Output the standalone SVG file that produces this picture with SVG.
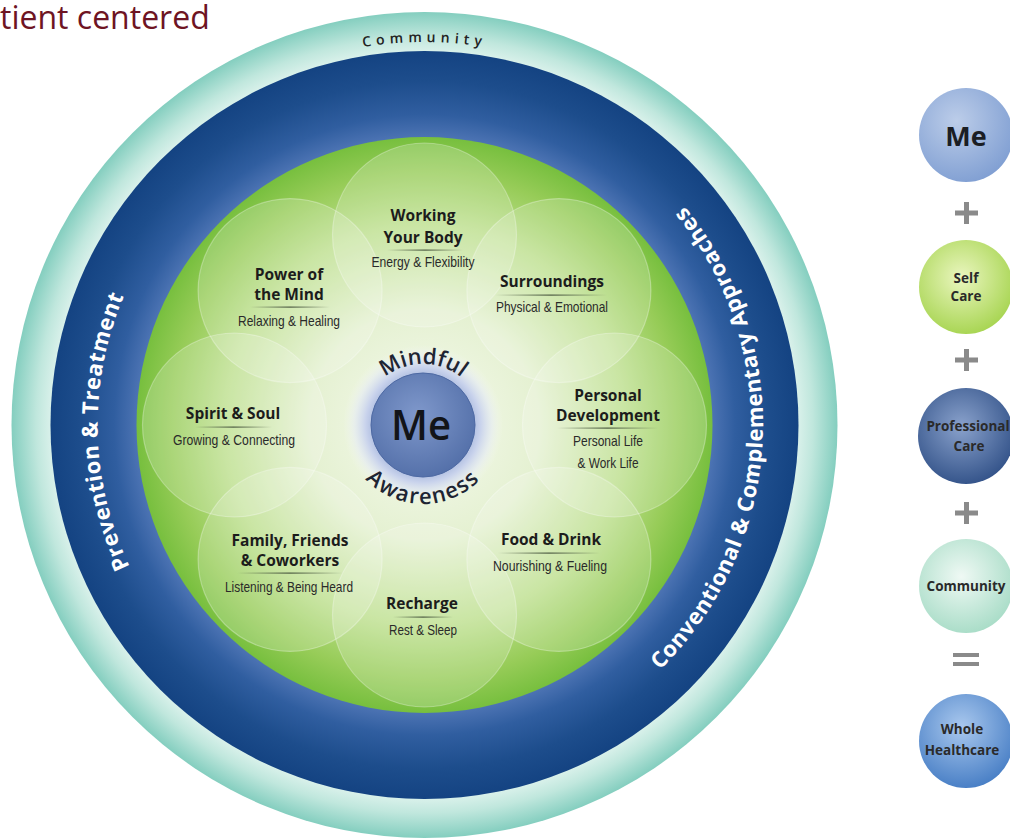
<svg xmlns="http://www.w3.org/2000/svg" width="1010" height="840" viewBox="0 0 1010 840">
<defs>
  <radialGradient id="gTeal" gradientUnits="userSpaceOnUse" cx="424.5" cy="425" r="413">
    <stop offset="0.9" stop-color="#dcf2ec"/>
    <stop offset="0.94" stop-color="#c0e7dd"/>
    <stop offset="1" stop-color="#84cebf"/>
  </radialGradient>
  <radialGradient id="gBlue" gradientUnits="userSpaceOnUse" cx="424.5" cy="425" r="374">
    <stop offset="0.77" stop-color="#4c73b3"/>
    <stop offset="0.83" stop-color="#305ea0"/>
    <stop offset="0.92" stop-color="#1d4d8c"/>
    <stop offset="1" stop-color="#144382"/>
  </radialGradient>
  <radialGradient id="gGreen" gradientUnits="userSpaceOnUse" cx="424.5" cy="425" r="288">
    <stop offset="0" stop-color="#f6faef"/>
    <stop offset="0.4" stop-color="#e5f1d2"/>
    <stop offset="0.7" stop-color="#bcdf8c"/>
    <stop offset="0.88" stop-color="#97cc58"/>
    <stop offset="1" stop-color="#77bf3e"/>
  </radialGradient>
  <radialGradient id="gHalo" gradientUnits="userSpaceOnUse" cx="423" cy="425" r="80">
    <stop offset="0.62" stop-color="#aebde0"/>
    <stop offset="0.72" stop-color="#c9d3ec"/>
    <stop offset="0.86" stop-color="#e6ecf2" stop-opacity="0.7"/>
    <stop offset="1" stop-color="#f4f8ee" stop-opacity="0"/>
  </radialGradient>
  <radialGradient id="gMe" cx="0.45" cy="0.4" r="0.6">
    <stop offset="0" stop-color="#7f98cb"/>
    <stop offset="1" stop-color="#5571aa"/>
  </radialGradient>
  <radialGradient id="gR1" cx="0.4" cy="0.35" r="0.7">
    <stop offset="0" stop-color="#bccde9"/>
    <stop offset="1" stop-color="#7f9ed2"/>
  </radialGradient>
  <radialGradient id="gR2" cx="0.45" cy="0.4" r="0.65">
    <stop offset="0" stop-color="#eaf6bf"/>
    <stop offset="1" stop-color="#a4d34c"/>
  </radialGradient>
  <radialGradient id="gR3" cx="0.45" cy="0.4" r="0.65">
    <stop offset="0" stop-color="#8aa2cc"/>
    <stop offset="1" stop-color="#2f4f86"/>
  </radialGradient>
  <radialGradient id="gR4" cx="0.45" cy="0.4" r="0.65">
    <stop offset="0" stop-color="#eff9f4"/>
    <stop offset="1" stop-color="#a5dbc5"/>
  </radialGradient>
  <radialGradient id="gR5" cx="0.45" cy="0.35" r="0.65">
    <stop offset="0" stop-color="#a9c8ee"/>
    <stop offset="1" stop-color="#4a80c6"/>
  </radialGradient>
  <linearGradient id="gLine" x1="0" y1="0" x2="1" y2="0">
    <stop offset="0" stop-color="#3d4a35" stop-opacity="0"/>
    <stop offset="0.5" stop-color="#3d4a35" stop-opacity="0.9"/>
    <stop offset="1" stop-color="#3d4a35" stop-opacity="0"/>
  </linearGradient>
  <path id="pCommunity" d="M 41.5 425 A 383 383 0 0 1 807.5 425"/>
  <path id="pPrevention" d="M 431.3 752 A 327 327 0 0 1 417.7 98"/>
  <path id="pConventional" d="M 406.55 767.5 A 343 343 0 0 0 442.45 82.5"/>
  <path id="pMindful" d="M 362 425 A 61 61 0 0 1 484 425"/>
  <path id="pAwareness" d="M 344 425 A 79 79 0 0 0 502 425"/>
</defs>
<style>
  .title{font-family:"Open Sans","Noto Sans","DejaVu Sans",sans-serif;font-weight:700;font-size:15.5px;fill:#1c1c1c;text-anchor:middle}
  .sub{font-family:"Liberation Sans","Arimo",sans-serif;font-size:15px;fill:#2a2a2a;text-anchor:middle}
  .petal{fill:#ffffff;fill-opacity:0.2;stroke:#ffffff;stroke-opacity:0.3;stroke-width:1.2}
  .sep{fill:url(#gLine)}
  .ring{font-family:"Open Sans","Noto Sans","DejaVu Sans",sans-serif;font-weight:700;font-size:22px;fill:#ffffff;letter-spacing:0.6px}
  .arcword{font-family:"Open Sans","Noto Sans","DejaVu Sans",sans-serif;font-weight:600;font-size:22px;fill:#1e2533}
  .rc{font-family:"Open Sans","Noto Sans","DejaVu Sans",sans-serif;font-weight:700;font-size:13.5px;fill:#2a2a2a;text-anchor:middle}
  .op{fill:#8a8a8a}
</style>

<g id="page-title">
  <text x="0" y="28.5" font-family="'Open Sans','Noto Sans',sans-serif" font-size="32" fill="#6e1423">tient centered</text>
</g>

<g id="ring-community">
  <circle cx="424.5" cy="425" r="413" fill="url(#gTeal)"/>
  <text font-family="'Open Sans','Noto Sans',sans-serif" font-weight="600" font-size="14" fill="#222" letter-spacing="5" text-anchor="middle"><textPath href="#pCommunity" startOffset="50%">Community</textPath></text>
</g>

<g id="ring-professional">
  <circle cx="424.5" cy="425" r="374" fill="url(#gBlue)"/>
  <text class="ring" text-anchor="middle"><textPath href="#pPrevention" startOffset="50%">Prevention &amp; Treatment</textPath></text>
  <text class="ring" text-anchor="middle"><textPath href="#pConventional" startOffset="50%">Conventional &amp; Complementary Approaches</textPath></text>
</g>

<g id="self-care-disk">
  <circle cx="424.5" cy="425" r="288" fill="url(#gGreen)"/>
</g>

<g id="petals">
  <circle class="petal" cx="424.5" cy="235" r="92"/>
  <circle class="petal" cx="558.9" cy="290.6" r="92"/>
  <circle class="petal" cx="614.5" cy="425" r="92"/>
  <circle class="petal" cx="558.9" cy="559.4" r="92"/>
  <circle class="petal" cx="424.5" cy="615" r="92"/>
  <circle class="petal" cx="290.1" cy="559.4" r="92"/>
  <circle class="petal" cx="234.5" cy="425" r="92"/>
  <circle class="petal" cx="290.1" cy="290.6" r="92"/>
</g>

<g id="working-your-body">
  <text class="title" x="423" y="221">Working</text>
  <text class="title" x="423" y="243">Your Body</text>
  <rect class="sep" x="387" y="249.5" width="76" height="1.2"/>
  <text class="sub" x="423" y="267" textLength="103" lengthAdjust="spacingAndGlyphs">Energy &amp; Flexibility</text>
</g>
<g id="surroundings">
  <text class="title" x="552" y="287">Surroundings</text>
  <rect class="sep" x="495" y="294.5" width="112" height="1.2"/>
  <text class="sub" x="552" y="312" textLength="112" lengthAdjust="spacingAndGlyphs">Physical &amp; Emotional</text>
</g>
<g id="personal-development">
  <text class="title" x="608" y="401">Personal</text>
  <text class="title" x="608" y="421">Development</text>
  <rect class="sep" x="557" y="427.5" width="101" height="1.2"/>
  <text class="sub" x="608" y="446" textLength="70" lengthAdjust="spacingAndGlyphs">Personal Life</text>
  <text class="sub" x="608" y="468" textLength="61" lengthAdjust="spacingAndGlyphs">&amp; Work Life</text>
</g>
<g id="food-drink">
  <text class="title" x="551" y="545">Food &amp; Drink</text>
  <rect class="sep" x="498" y="552.5" width="102" height="1.2"/>
  <text class="sub" x="550" y="571" textLength="114" lengthAdjust="spacingAndGlyphs">Nourishing &amp; Fueling</text>
</g>
<g id="recharge">
  <text class="title" x="422" y="609">Recharge</text>
  <rect class="sep" x="393" y="616.5" width="60" height="1.2"/>
  <text class="sub" x="423" y="635" textLength="68" lengthAdjust="spacingAndGlyphs">Rest &amp; Sleep</text>
</g>
<g id="family-friends-coworkers">
  <text class="title" x="290" y="546">Family, Friends</text>
  <text class="title" x="290" y="566">&amp; Coworkers</text>
  <rect class="sep" x="237" y="572.5" width="106" height="1.2"/>
  <text class="sub" x="289" y="592" textLength="128" lengthAdjust="spacingAndGlyphs">Listening &amp; Being Heard</text>
</g>
<g id="spirit-soul">
  <text class="title" x="233" y="419">Spirit &amp; Soul</text>
  <rect class="sep" x="195" y="426.5" width="77" height="1.2"/>
  <text class="sub" x="234" y="445" textLength="122" lengthAdjust="spacingAndGlyphs">Growing &amp; Connecting</text>
</g>
<g id="power-of-the-mind">
  <text class="title" x="289" y="280">Power of</text>
  <text class="title" x="289" y="300">the Mind</text>
  <rect class="sep" x="250" y="306.5" width="80" height="1.2"/>
  <text class="sub" x="289" y="326" textLength="102" lengthAdjust="spacingAndGlyphs">Relaxing &amp; Healing</text>
</g>

<g id="center-me">
  <circle cx="423" cy="425" r="80" fill="url(#gHalo)"/>
  <circle cx="423" cy="425" r="52" fill="url(#gMe)" stroke="#4d69a3" stroke-width="1"/>
  <text x="421" y="440" font-family="'Open Sans','Noto Sans',sans-serif" font-weight="600" font-size="42" fill="#121418" text-anchor="middle" textLength="60" lengthAdjust="spacingAndGlyphs">Me</text>
  <text class="arcword" text-anchor="middle"><textPath href="#pMindful" startOffset="50%">Mindful</textPath></text>
  <text class="arcword" text-anchor="middle" letter-spacing="1.5"><textPath href="#pAwareness" startOffset="50%">Awareness</textPath></text>
</g>

<g id="legend-me">
  <circle cx="966" cy="135" r="47" fill="url(#gR1)"/>
  <text x="966" y="146" font-family="'Open Sans','Noto Sans',sans-serif" font-weight="700" font-size="27" fill="#1b1e24" text-anchor="middle">Me</text>
</g>
<g id="legend-self-care">
  <circle cx="966" cy="287" r="47" fill="url(#gR2)"/>
  <text class="rc" x="966" y="283">Self</text>
  <text class="rc" x="966" y="301">Care</text>
</g>
<g id="legend-professional-care">
  <circle cx="966" cy="436" r="48" fill="url(#gR3)"/>
  <text class="rc" x="968" y="431" font-size="12">Professional</text>
  <text class="rc" x="969" y="451">Care</text>
</g>
<g id="legend-community">
  <circle cx="966" cy="586" r="47" fill="url(#gR4)"/>
  <text class="rc" x="966" y="591" font-size="13.5">Community</text>
</g>
<g id="legend-whole-healthcare">
  <circle cx="966" cy="741" r="47" fill="url(#gR5)"/>
  <text class="rc" x="962" y="734">Whole</text>
  <text class="rc" x="962" y="755">Healthcare</text>
</g>

<g id="operators">
  <rect class="op" x="955" y="210.5" width="23" height="5"/>
  <rect class="op" x="964" y="202" width="5" height="22"/>
  <rect class="op" x="955" y="357.5" width="23" height="5"/>
  <rect class="op" x="964" y="349" width="5" height="22"/>
  <rect class="op" x="955" y="510.5" width="23" height="5"/>
  <rect class="op" x="964" y="502" width="5" height="22"/>
  <rect class="op" x="953" y="653" width="26" height="4"/>
  <rect class="op" x="953" y="662" width="26" height="4"/>
</g>
<g id="connectors"/>
</svg>
